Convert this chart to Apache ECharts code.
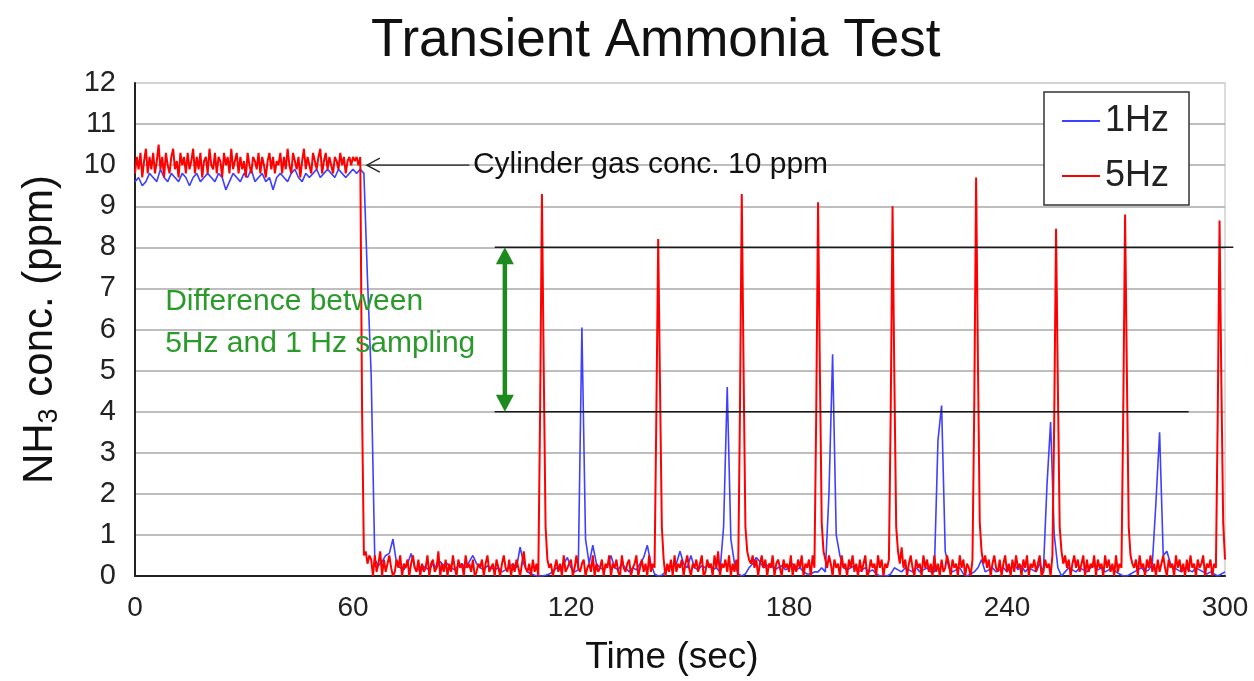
<!DOCTYPE html>
<html>
<head>
<meta charset="utf-8">
<title>Transient Ammonia Test</title>
<script src="https://cdn.jsdelivr.net/npm/echarts@6/dist/echarts.min.js"></script>
<style>
  html, body { margin: 0; padding: 0; background: #ffffff; }
  #chart { width: 1254px; height: 681px; }
</style>
</head>
<body>
<div id="chart"></div>
<script>
// NH3 concentration (ppm), 1 Hz analyser, one value per second from t = 0 s
const ppm1Hz = [
  9.6, 9.7, 9.5, 9.6, 9.8, 9.7, 9.6, 9.9, 9.7, 9.6,
  9.8, 9.7, 9.6, 9.8, 9.7, 9.5, 9.7, 9.8, 9.6, 9.7,
  9.8, 9.7, 9.6, 9.8, 9.7, 9.4, 9.6, 9.8, 9.7, 9.6,
  9.8, 9.7, 9.9, 9.6, 9.7, 9.8, 9.6, 9.7, 9.4, 9.7,
  9.8, 9.7, 9.6, 9.8, 9.9, 9.7, 9.6, 9.8, 9.7, 9.8,
  9.9, 9.7, 9.8, 9.9, 9.8, 9.7, 9.9, 9.8, 9.7, 9.8,
  9.9, 9.8, 9.9, 9.8, 7.2, 4.9, 0.4, 0.25, 0.35, 0.5,
  0.55, 0.9, 0.3, 0.2, 0.15, 0.3, 0.55, 0.2, 0.15, 0.25,
  0.2, 0.15, 0.3, 0.2, 0.35, 0.25, 0.3, 0.2, 0.15, 0.25,
  0.3, 0.2, 0.35, 0.5, 0.3, 0.2, 0.15, 0.25, 0.2, 0.15,
  0.2, 0.1, 0.15, 0.2, 0.3, 0.2, 0.7, 0.3, 0.1, 0.05,
  0.02, 0, 0, 0.02, 0.05, 0.1, 0.2, 0.15, 0.3, 0.45,
  0.2, 0.1, 0.15, 6.05, 0.9, 0.3, 0.75, 0.3, 0.2, 0.15,
  0.25, 0.5, 0.2, 0.15, 0.3, 0.2, 0.1, 0.2, 0.15, 0.3,
  0.45, 0.75, 0.3, 0.05, 0, 0.02, 0.1, 0.25, 0.2, 0.3,
  0.6, 0.3, 0.2, 0.5, 0.2, 0.15, 0.25, 0.2, 0.3, 0.15,
  0.2, 0.1, 1.2, 4.6, 0.9, 0.3, 0.05, 0, 0.05, 0.2,
  0.3, 0.45, 0.35, 0.2, 0.25, 0.3, 0.15, 0.2, 0.25, 0.15,
  0.2, 0.3, 0.15, 0.2, 0.1, 0.05, 0.05, 0.1, 0.1, 0.2,
  0.1, 2.0, 5.4, 1.0, 0.5, 0.2, 0.15, 0.2, 0.25, 0.1,
  0.15, 0.2, 0.1, 0.15, 0.05, 0, 0.02, 0, 0.05, 0.2,
  0.15, 0.1, 0.2, 0.15, 0.1, 0.2, 0.1, 0.15, 0.2, 0.1,
  0.1, 3.3, 4.15, 0.6, 0.2, 0.1, 0.15, 0.2, 0.05, 0,
  0.05, 0.1, 0.2, 0.4, 0.1, 0.15, 0.2, 0.1, 0.15, 0.2,
  0.1, 0.2, 0.3, 0.15, 0.25, 0.1, 0.2, 0.15, 0.1, 0.3,
  0.1, 2.2, 3.75, 1.0, 0.2, 0, 0.1, 0.2, 0.15, 0.1,
  0.2, 0.15, 0.1, 0.2, 0.25, 0.15, 0.2, 0.1, 0.15, 0.2,
  0.1, 0.05, 0, 0, 0.05, 0.1, 0.15, 0.2, 0.1, 0.15,
  0.3, 1.8, 3.5, 0.5, 0.6, 0.3, 0.2, 0.15, 0.1, 0.2,
  0.15, 0.1, 0.2, 0.15, 0.1, 0.05, 0.1, 0.05, 0, 0.05,
  0.1
];
const step1Hz = 1;

// NH3 concentration (ppm), 5 Hz analyser, one value every 0.5 s from t = 0 s
const ppm5Hz = [
  9.8, 10.2, 9.9, 10.3, 9.7, 10.1, 10.4, 9.8, 10.2, 9.9,
  10.3, 9.8, 10.1, 10.5, 9.9, 10.2, 9.7, 10.3, 10.0, 9.8,
  10.2, 10.4, 9.9, 10.1, 9.7, 10.3, 10.0, 10.2, 9.8, 10.3,
  9.9, 10.1, 10.4, 9.8, 10.2, 9.9, 10.3, 9.7, 10.1, 10.2,
  9.8, 10.4, 10.0, 9.9, 10.3, 9.8, 10.2, 10.1, 9.7, 10.3,
  10.0, 10.2, 9.8, 10.4, 9.9, 10.1, 10.3, 9.8, 10.2, 9.9,
  10.1, 9.7, 10.3, 10.0, 9.8, 10.2, 10.1, 9.9, 10.3, 9.8,
  10.2, 10.0, 9.7, 10.1, 10.3, 9.9, 10.2, 9.8, 10.1, 10.0,
  10.3, 9.8, 10.2, 9.9, 10.4, 10.0, 9.8, 10.3, 10.1, 9.9,
  10.2, 9.7, 10.1, 10.4, 9.9, 10.2, 10.0, 9.8, 10.3, 10.1,
  9.9, 10.2, 10.4, 9.8, 10.1, 10.3, 9.9, 10.2, 10.0, 9.8,
  10.2, 10.1, 9.9, 10.3, 10.0, 10.2, 9.8, 10.1, 10.2, 10.0,
  10.2, 10.1, 10.2, 10.0, 10.2, 4.0, 0.5, 0.6, 0.3, 0.5,
  0.4, 0, 0.5, 0.1, 0.3, 0.6, 0, 0.4, 0.1, 0.3,
  0.5, 0.2, 0, 0.1, 0.4, 0.2, 0.5, 0, 0.3, 0.2,
  0.4, 0, 0.3, 0.5, 0.2, 0.1, 0.4, 0, 0.3, 0.1,
  0.2, 0.5, 0, 0.3, 0.4, 0.1, 0.2, 0.6, 0, 0.3,
  0.1, 0.4, 0, 0.3, 0.1, 0.5, 0.2, 0, 0.4, 0.2,
  0.3, 0, 0.5, 0.2, 0.3, 0.1, 0.4, 0, 0.1, 0.3,
  0.2, 0.4, 0, 0.3, 0.5, 0.1, 0.2, 0.3, 0, 0.4,
  0.2, 0, 0.3, 0.5, 0.2, 0.1, 0.4, 0, 0.3, 0.1,
  0.4, 0.2, 0, 0.3, 0.6, 0.2, 0.1, 0.3, 0, 0.4,
  0.1, 0.3, 0, 4.0, 9.3, 5.0, 1.2, 0.4, 0.2, 0.3,
  0, 0.2, 0.4, 0.1, 0.3, 0, 0.5, 0.1, 0.2, 0.3,
  0.4, 0, 0.2, 0.5, 0.2, 0.1, 0.3, 0.4, 0, 0.2,
  0.3, 0.1, 0.5, 0, 0.3, 0.1, 0.2, 0.4, 0, 0.3,
  0.2, 0.5, 0, 0.3, 0.2, 0.4, 0.1, 0, 0.5, 0.2,
  0.1, 0.3, 0.4, 0, 0.2, 0.3, 0.5, 0, 0.2, 0.4,
  0.1, 0.3, 0, 0.5, 0.1, 0.3, 0.2, 4.0, 8.2, 4.6,
  1.2, 0.4, 0, 0.3, 0.1, 0.4, 0, 0.5, 0.1, 0.3,
  0.2, 0.4, 0, 0.3, 0.5, 0.2, 0, 0.3, 0.2, 0.4,
  0.1, 0.3, 0.5, 0, 0.1, 0.4, 0.2, 0.3, 0, 0.5,
  0.2, 0.6, 0, 0.3, 0.2, 0.4, 0.1, 0.5, 0, 0.3,
  0.1, 0.4, 0, 4.0, 9.3, 5.0, 1.2, 0.6, 0.4, 0.3,
  0.5, 0.2, 0.4, 0, 0.3, 0.5, 0.2, 0.4, 0, 0.3,
  0.2, 0.5, 0, 0.3, 0.4, 0.2, 0, 0.4, 0.2, 0.3,
  0.1, 0.5, 0, 0.3, 0.1, 0.4, 0.2, 0.5, 0, 0.3,
  0.2, 0.4, 0, 0.5, 0.2, 4.0, 9.1, 5.0, 1.3, 0.6,
  0.4, 0.2, 0.5, 0.3, 0, 0.4, 0.2, 0.3, 0, 0.5,
  0.2, 0.3, 0, 0.4, 0.2, 0.5, 0.1, 0.3, 0, 0.4,
  0.1, 0.3, 0.5, 0, 0.1, 0.4, 0.2, 0.3, 0, 0.5,
  0.2, 0.4, 0, 0.3, 0.2, 0.4, 4.0, 9.0, 4.8, 1.2,
  0.6, 0.3, 0.7, 0.2, 0.4, 0, 0.3, 0.5, 0.2, 0,
  0.4, 0.2, 0.3, 0, 0.5, 0.2, 0.4, 0.1, 0.3, 0,
  0.5, 0.1, 0.3, 0, 0.4, 0.1, 0.2, 0.5, 0.3, 0,
  0.4, 0.2, 0.3, 0, 0.5, 0.2, 0.4, 0, 0.3, 0.2,
  0, 0.4, 4.2, 9.7, 5.2, 1.3, 0.6, 0.3, 0.5, 0.2,
  0.4, 0, 0.3, 0.5, 0.2, 0.1, 0.4, 0, 0.3, 0.5,
  0.1, 0.3, 0, 0.4, 0.1, 0.5, 0.2, 0.3, 0, 0.4,
  0.2, 0.5, 0, 0.3, 0.2, 0.4, 0.1, 0.3, 0.5, 0,
  0.1, 0.4, 0.2, 0.3, 0, 0.5, 3.8, 8.45, 4.6, 1.2,
  0.6, 0.3, 0.5, 0.2, 0.4, 0, 0.3, 0.5, 0.2, 0.4,
  0.1, 0.3, 0.5, 0, 0.4, 0.1, 0.3, 0.2, 0.5, 0,
  0.4, 0.2, 0.3, 0, 0.5, 0.2, 0.4, 0.1, 0.3, 0,
  0.5, 0.1, 0.3, 0.2, 4.0, 8.8, 4.9, 1.2, 0.5, 0.3,
  0.2, 0.4, 0, 0.5, 0.2, 0.3, 0, 0.4, 0.2, 0.5,
  0.1, 0.3, 0, 0.4, 0.1, 0.3, 0.5, 0.2, 0, 0.4,
  0.2, 0.3, 0, 0.5, 0.2, 0.4, 0.1, 0.3, 0, 0.4,
  0.1, 0.5, 0.2, 0.3, 0, 0.4, 0.2, 0.3, 0.5, 0,
  0.3, 0.2, 0.4, 0, 0.3, 0.2, 3.9, 8.65, 4.7, 1.3,
  0.4
];
const step5Hz = 0.5;

const seriesNames = ['1Hz', '5Hz'];
const timeRange = [0, 300];
const timeStep = 60;
const ppmRange = [0, 12];
const ppmStep = 1;

// annotation values
const cylinderConc = 10;          // ppm, reference gas level
const diffHigh = 8;               // ppm, typical 5 Hz peak
const diffLow = 4;                // ppm, typical 1 Hz peak
const cylinderText = 'Cylinder gas conc. 10 ppm';
const diffText = ['Difference between', '5Hz and 1 Hz sampling'];

const FONT = '"Liberation Sans", Arial, Helvetica, sans-serif';

const toPairs = (vals, step) => vals.map((v, i) => [+(i * step).toFixed(2), v]);

// grid lines: the top border line is lighter than the inner ones
const splitColors = [];
for (let v = ppmRange[0]; v <= ppmRange[1]; v += ppmStep) {
  splitColors.push(v === ppmRange[1] ? '#d0d0d0' : '#a8a8a8');
}

const chart = echarts.init(document.getElementById('chart'), null, { renderer: 'canvas' });

chart.setOption({
  animation: false,
  backgroundColor: '#ffffff',
  textStyle: { fontFamily: FONT },
  title: {
    text: 'Transient Ammonia Test',
    left: 366,
    top: 10,
    textStyle: { fontFamily: FONT, fontSize: 53, fontWeight: 'normal', color: '#111' }
  },
  grid: {
    left: 135, right: 29, top: 83, bottom: 102,
    show: true, borderColor: '#cfcfcf', borderWidth: 1.5, backgroundColor: 'transparent'
  },
  legend: {
    data: seriesNames,
    orient: 'vertical',
    left: 1044,
    top: 92,
    icon: 'rect',
    itemWidth: 38,
    itemHeight: 2,
    itemGap: 19,
    padding: [11, 20, 11, 18],
    backgroundColor: '#ffffff',
    borderColor: '#333',
    borderWidth: 1.5,
    borderRadius: 0,
    textStyle: { fontFamily: FONT, fontSize: 36, color: '#222' }
  },
  xAxis: {
    type: 'value',
    min: timeRange[0], max: timeRange[1], interval: timeStep,
    name: 'Time (sec)',
    nameLocation: 'middle',
    nameGap: 63,
    nameTextStyle: { fontFamily: FONT, fontSize: 37, color: '#111', padding: [0, 16, 0, 0] },
    axisLine: { show: true, lineStyle: { color: '#222', width: 2 } },
    axisTick: { show: false },
    splitLine: { show: false },
    axisLabel: { fontFamily: FONT, fontSize: 28, color: '#222', margin: 18 }
  },
  yAxis: {
    type: 'value',
    min: ppmRange[0], max: ppmRange[1], interval: ppmStep,
    name: '{n|NH}{s|3}{n| conc. (ppm)}',
    nameLocation: 'middle',
    nameGap: 72,
    nameTextStyle: {
      rich: {
        n: { fontFamily: FONT, fontSize: 42, color: '#111' },
        s: { fontFamily: FONT, fontSize: 27, color: '#111', verticalAlign: 'bottom', padding: [18, 0, 0, 0] }
      }
    },
    axisLine: { show: true, lineStyle: { color: '#222', width: 2 } },
    axisTick: { show: false },
    splitLine: { show: true, lineStyle: { color: splitColors, width: 1.5 } },
    axisLabel: { fontFamily: FONT, fontSize: 29, color: '#222', margin: 19 }
  },
  series: [
    {
      name: seriesNames[0],
      type: 'line',
      data: toPairs(ppm1Hz, step1Hz),
      showSymbol: false,
      symbol: 'none',
      color: '#3f3fff',
      lineStyle: { color: '#3f3fff', width: 1.6 },
      z: 2
    },
    {
      name: seriesNames[1],
      type: 'line',
      data: toPairs(ppm5Hz, step5Hz),
      showSymbol: false,
      symbol: 'none',
      color: '#ff0000',
      lineStyle: { color: '#ff0000', width: 2 },
      z: 3
    }
  ]
});

// annotations placed through the chart's own coordinate system
function px(t, v) { return chart.convertToPixel({ gridIndex: 0 }, [t, v]); }

const hiL = px(99, diffHigh), hiR = px(302.3, diffHigh);
const loL = px(99, diffLow), loR = px(290, diffLow);
const arrowTail = px(92, cylinderConc), arrowTip = px(63.8, cylinderConc);
const textPos = px(93, cylinderConc);
const gTop = px(101.8, diffHigh), gBot = px(101.8, diffLow);
const diffPos = px(8.3, (diffHigh + diffLow) / 2 + 0.17);

const GREEN = '#1d8a1d';
const headH = 17, headW = 9;

chart.setOption({
  graphic: [
    { type: 'line', z: 10, shape: { x1: hiL[0], y1: hiL[1], x2: hiR[0], y2: hiR[1] },
      style: { stroke: '#1a1a1a', lineWidth: 1.5 } },
    { type: 'line', z: 10, shape: { x1: loL[0], y1: loL[1], x2: loR[0], y2: loR[1] },
      style: { stroke: '#1a1a1a', lineWidth: 1.5 } },
    { type: 'line', z: 10, shape: { x1: arrowTail[0], y1: arrowTail[1], x2: arrowTip[0] + 1, y2: arrowTip[1] },
      style: { stroke: '#222', lineWidth: 1.3 } },
    { type: 'polyline', z: 10,
      shape: { points: [[arrowTip[0] + 13, arrowTip[1] - 7], [arrowTip[0], arrowTip[1]], [arrowTip[0] + 13, arrowTip[1] + 7]] },
      style: { stroke: '#222', lineWidth: 1.3, fill: null } },
    { type: 'text', z: 10, x: textPos[0], y: textPos[1],
      style: { text: cylinderText, fontFamily: FONT, fontSize: 30, fill: '#111', verticalAlign: 'middle', align: 'left' } },
    { type: 'line', z: 10, shape: { x1: gTop[0], y1: gTop[1] + headH - 2, x2: gBot[0], y2: gBot[1] - headH + 2 },
      style: { stroke: GREEN, lineWidth: 4.5 } },
    { type: 'polygon', z: 10,
      shape: { points: [[gTop[0], gTop[1]], [gTop[0] - headW, gTop[1] + headH], [gTop[0] + headW, gTop[1] + headH]] },
      style: { fill: GREEN } },
    { type: 'polygon', z: 10,
      shape: { points: [[gBot[0], gBot[1]], [gBot[0] - headW, gBot[1] - headH], [gBot[0] + headW, gBot[1] - headH]] },
      style: { fill: GREEN } },
    { type: 'text', z: 10, x: diffPos[0], y: diffPos[1],
      style: { text: diffText.join('\n'), fontFamily: FONT, fontSize: 30, lineHeight: 42,
               fill: '#2a9a2a', verticalAlign: 'middle', align: 'left' } }
  ]
});
</script>
</body>
</html>
